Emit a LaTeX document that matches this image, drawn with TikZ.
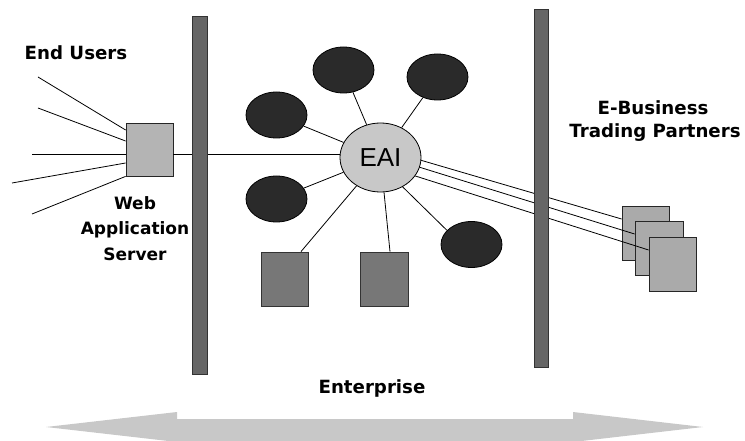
\documentclass[tikz,border=0pt]{standalone}
\usepackage{fontspec}
\setmainfont{DejaVu Sans}
\newfontfamily\eaifont{Liberation Sans}
\usetikzlibrary{shapes.geometric}
\definecolor{barc}{HTML}{666666}
\definecolor{wsc}{HTML}{B4B4B4}
\definecolor{eaic}{HTML}{C8C8C8}
\definecolor{darkc}{HTML}{2A2A2A}
\definecolor{sqc}{HTML}{777777}
\definecolor{tpc}{HTML}{AAAAAA}
\definecolor{arrc}{HTML}{C8C8C8}
\begin{document}
\begin{tikzpicture}[x=1pt,y=-1pt,
  lbl/.style={font=\bfseries\fontsize{18.2}{20}\selectfont, anchor=base, inner sep=0pt},
  wlbl/.style={font=\bfseries\fontsize{17}{20}\selectfont, anchor=base, inner sep=0pt},
  conn/.style={draw=black, line width=0.8pt},
  darkell/.style={ellipse, draw=black, fill=darkc, minimum width=61pt, minimum height=46pt, inner sep=0pt, line width=0.8pt},
  sqbox/.style={rectangle, draw=black!80, fill=sqc, minimum width=47pt, minimum height=54pt, inner sep=0pt, line width=0.8pt},
  tpbox/.style={rectangle, draw=black!85, fill=tpc, minimum width=47pt, minimum height=54pt, inner sep=0pt, line width=0.8pt},
  barbox/.style={rectangle, draw=black!80, fill=barc, inner sep=0pt, line width=0.8pt}]
\useasboundingbox (0,0) rectangle (745,441);
\clip (0,0) rectangle (745,441);

% double arrow
\fill[arrc] (46,427) -- (177,412) -- (177,419) -- (573,419) -- (573,412) -- (703,427)
  -- (573,442) -- (573,450) -- (177,450) -- (177,442) -- cycle;

% labels
\node[lbl] (eu) at (76,60) {End Users};
\node[wlbl] (w1) at (135,210) {Web};
\node[wlbl] (w2) at (135,235) {Application};
\node[wlbl] (w3) at (135,260) {Server};
\node[lbl] (t1) at (653,115) {E-Business};
\node[lbl] (t2) at (655,138) {Trading Partners};
\node[lbl] (ent) at (372,393) {Enterprise};

% web application server
\node[rectangle, draw=black!85, fill=wsc, minimum width=47pt, minimum height=53pt, inner sep=0pt, line width=0.8pt] (ws) at (149.5,149.5) {};

% EAI hub
\node[ellipse, draw=black, fill=eaic, minimum width=81pt, minimum height=69pt, inner sep=0pt, line width=0.8pt, font=\eaifont\fontsize{26}{28}\selectfont] (eai) at (380.5,157.5) {EAI};

% dark ellipses
\node[darkell] (e1) at (343.5,70) {};
\node[darkell] (e2) at (437.5,77) {};
\node[darkell] (e3) at (276.5,115) {};
\node[darkell] (e4) at (276.5,199) {};
\node[darkell] (e5) at (471.5,244.5) {};

% enterprise squares
\node[sqbox] (s1) at (284.5,279) {};
\node[sqbox, minimum width=48pt] (s2) at (384,279) {};

% trading partner boxes
\node[tpbox] (p1) at (645.5,233) {};
\node[tpbox, minimum width=48pt] (p2) at (659,248.5) {};
\node[tpbox] (p3) at (672.5,264) {};

% end user lines
\coordinate (u1) at (38,77);
\coordinate (u2) at (38,108);
\coordinate (u3) at (32,154);
\coordinate (u4) at (12,183);
\coordinate (u5) at (32,214);
\draw[conn] (u1) -- ([yshift=19.5pt]ws.west);
\draw[conn] (u2) -- ([yshift=8.5pt]ws.west);
\draw[conn] (u3) -- ([yshift=-4.5pt]ws.west);
\draw[conn] (u4) -- ([yshift=-13.5pt]ws.west);
\draw[conn] (u5) -- (ws.south west);

% server to EAI
\coordinate (h) at ([yshift=-4.5pt]ws.east);
\draw[conn] (h) -- (h -| eai.west);

% hub spokes
\draw[conn] (eai) -- (e1);
\draw[conn] (eai) -- (e2);
\draw[conn] (eai) -- (e3);
\draw[conn] (eai) -- (e4);
\draw[conn] (eai.-53) -- (e5.150);
\draw[conn] (eai) -- ([xshift=16.5pt]s1.north);
\draw[conn] (eai) -- ([xshift=6pt]s2.north);

% partner lines
\draw[conn] (eai.-4) -- ([yshift=14pt]p1.west);
\draw[conn] (eai.-14) -- ([yshift=14.5pt]p2.west);
\draw[conn] (eai.-28) -- ([yshift=14pt]p3.west);

% walls
\node[barbox, minimum width=15pt, minimum height=358pt] (bl) at (199.5,195) {};
\node[barbox, minimum width=14pt, minimum height=358pt] (br) at (541,188) {};
\end{tikzpicture}
\end{document}
